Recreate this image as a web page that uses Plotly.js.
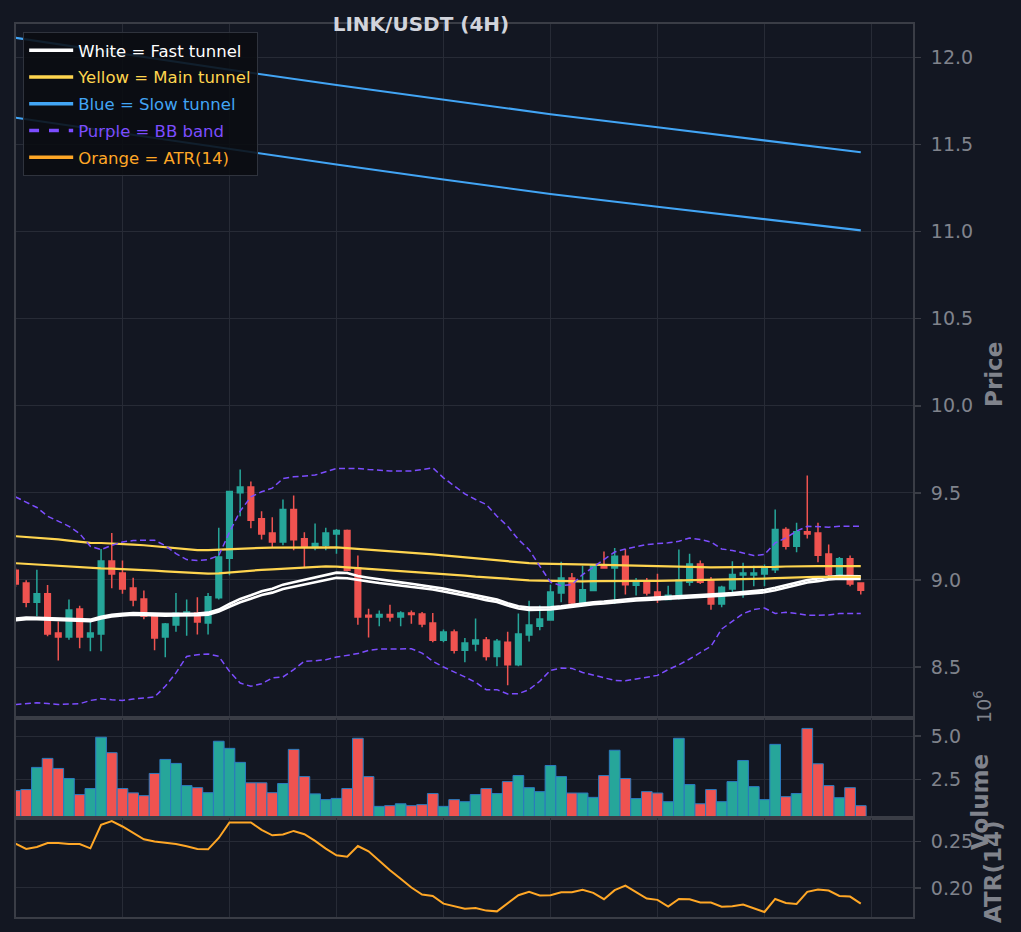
<!DOCTYPE html>
<html>
<head>
<meta charset="utf-8">
<script src="https://cdn.plot.ly/plotly-3.0.1.min.js"></script>
<style>
  html, body { margin: 0; padding: 0; background: #131722; }
  #chart { width: 1021px; height: 932px; }
</style>
</head>
<body>
<div id="chart"></div>
<script>
// candles (4H), oldest first
const open = [9.056, 8.983, 8.872, 8.920, 8.695, 8.672, 8.833, 8.672, 8.690, 9.109,
    9.040, 8.954, 8.891, 8.791, 8.672, 8.741, 8.801, 8.810, 8.753, 8.897,
    9.125, 9.500, 9.534, 9.351, 9.270, 9.218, 9.404, 9.236, 9.186, 9.199,
    9.264, 9.284, 9.069, 8.797, 8.787, 8.801, 8.787, 8.810, 8.805, 8.753,
    8.653, 8.701, 8.596, 8.632, 8.655, 8.561, 8.642, 8.513, 8.684, 8.734,
    8.770, 8.925, 9.011, 8.862, 8.939, 9.079, 9.069, 9.136, 8.969, 8.992,
    8.931, 8.887, 8.897, 8.987, 9.092, 9.000, 8.862, 8.948, 9.029, 9.029,
    9.034, 9.059, 9.289, 9.193, 9.276, 9.270, 9.149, 9.031, 9.121, 8.983];
const high = [9.070, 8.998, 9.059, 8.971, 8.762, 8.887, 8.852, 8.759, 9.178, 9.270,
    9.111, 9.013, 8.939, 8.810, 8.753, 8.925, 8.887, 8.900, 8.925, 9.299,
    9.512, 9.634, 9.565, 9.395, 9.360, 9.462, 9.485, 9.274, 9.324, 9.299,
    9.293, 9.290, 9.140, 8.835, 8.824, 8.858, 8.820, 8.824, 8.816, 8.810,
    8.715, 8.715, 8.667, 8.778, 8.672, 8.661, 8.703, 8.807, 8.881, 8.853,
    8.973, 9.105, 9.040, 9.082, 9.086, 9.163, 9.184, 9.178, 9.011, 9.011,
    9.036, 8.967, 9.174, 9.151, 9.111, 9.017, 8.967, 9.107, 9.098, 9.082,
    9.088, 9.404, 9.303, 9.328, 9.600, 9.328, 9.203, 9.132, 9.140, 8.983];
const low = [8.960, 8.843, 8.791, 8.676, 8.538, 8.657, 8.607, 8.590, 8.590, 8.952,
    8.921, 8.849, 8.774, 8.596, 8.556, 8.703, 8.680, 8.686, 8.686, 8.887,
    9.027, 9.366, 9.297, 9.232, 9.188, 9.199, 9.170, 9.073, 9.170, 9.170,
    9.151, 9.050, 8.743, 8.670, 8.734, 8.761, 8.734, 8.749, 8.728, 8.642,
    8.642, 8.577, 8.527, 8.590, 8.538, 8.504, 8.395, 8.504, 8.646, 8.711,
    8.768, 8.872, 8.853, 8.849, 8.935, 9.065, 8.862, 8.916, 8.910, 8.910,
    8.868, 8.883, 8.887, 8.967, 8.977, 8.829, 8.843, 8.929, 8.897, 8.964,
    8.964, 9.040, 9.174, 9.159, 9.238, 9.102, 9.011, 9.017, 8.964, 8.916];
const close = [8.977, 8.872, 8.920, 8.690, 8.672, 8.828, 8.672, 8.695, 9.109, 9.034,
    8.948, 8.885, 8.791, 8.667, 8.747, 8.808, 8.816, 8.759, 8.904, 9.132,
    9.508, 9.534, 9.343, 9.264, 9.218, 9.404, 9.230, 9.193, 9.209, 9.270,
    9.284, 9.056, 8.787, 8.787, 8.801, 8.787, 8.810, 8.801, 8.747, 8.653,
    8.701, 8.596, 8.638, 8.655, 8.561, 8.648, 8.513, 8.690, 8.741, 8.776,
    8.931, 9.011, 8.868, 8.944, 9.082, 9.069, 9.136, 8.973, 8.992, 8.925,
    8.887, 8.912, 9.000, 9.092, 8.987, 8.862, 8.958, 9.031, 9.040, 9.040,
    9.069, 9.289, 9.193, 9.276, 9.264, 9.142, 9.031, 9.121, 8.977, 8.941];
// volume, millions
const volume = [1.86, 1.92, 3.20, 3.72, 3.14, 2.56, 1.63, 1.98, 4.94, 4.05,
    1.98, 1.73, 1.57, 2.85, 3.66, 3.43, 2.15, 2.03, 1.74, 4.71,
    4.30, 3.49, 2.31, 2.31, 1.74, 2.27, 4.24, 2.67, 1.67, 1.34,
    1.41, 1.98, 4.88, 2.67, 0.95, 0.99, 1.10, 0.99, 1.05, 1.69,
    0.95, 1.34, 1.22, 1.63, 1.98, 1.69, 2.38, 2.73, 2.03, 1.80,
    3.31, 2.67, 1.72, 1.72, 1.47, 2.73, 4.19, 2.56, 1.40, 1.80,
    1.72, 1.22, 4.88, 2.21, 1.10, 1.92, 1.22, 2.38, 3.60, 2.09,
    1.34, 4.53, 1.51, 1.69, 5.45, 3.41, 2.15, 1.45, 2.03, 0.99];
// fast tunnel (white)
const fastUp = [8.778, 8.784, 8.783, 8.781, 8.779, 8.776, 8.774, 8.772, 8.789, 8.800,
    8.806, 8.810, 8.809, 8.806, 8.805, 8.806, 8.806, 8.807, 8.812, 8.830,
    8.862, 8.891, 8.912, 8.935, 8.950, 8.973, 8.987, 9.000, 9.013, 9.030,
    9.042, 9.040, 9.022, 9.012, 9.002, 8.994, 8.986, 8.978, 8.970, 8.962,
    8.950, 8.938, 8.925, 8.912, 8.898, 8.887, 8.866, 8.849, 8.841, 8.840,
    8.843, 8.849, 8.857, 8.865, 8.872, 8.876, 8.882, 8.890, 8.893, 8.896,
    8.899, 8.902, 8.906, 8.910, 8.914, 8.918, 8.921, 8.925, 8.930, 8.936,
    8.942, 8.955, 8.970, 8.985, 9.000, 9.008, 9.018, 9.022, 9.022, 9.021];
const fastLo = [8.769, 8.775, 8.774, 8.772, 8.770, 8.767, 8.765, 8.763, 8.779, 8.790,
    8.796, 8.800, 8.799, 8.796, 8.795, 8.796, 8.796, 8.797, 8.801, 8.818,
    8.846, 8.872, 8.892, 8.913, 8.927, 8.948, 8.961, 8.973, 8.985, 9.001,
    9.012, 9.010, 8.999, 8.991, 8.982, 8.975, 8.968, 8.960, 8.952, 8.945,
    8.934, 8.923, 8.910, 8.898, 8.884, 8.873, 8.853, 8.836, 8.828, 8.828,
    8.831, 8.838, 8.846, 8.854, 8.861, 8.865, 8.871, 8.879, 8.882, 8.885,
    8.888, 8.891, 8.895, 8.899, 8.903, 8.907, 8.910, 8.914, 8.918, 8.923,
    8.929, 8.941, 8.955, 8.970, 8.985, 8.993, 9.003, 9.007, 9.007, 9.006];
// main tunnel (yellow)
const mainUp = [9.251, 9.247, 9.243, 9.239, 9.233, 9.226, 9.219, 9.213, 9.212, 9.210,
    9.206, 9.203, 9.199, 9.194, 9.188, 9.182, 9.176, 9.171, 9.171, 9.174,
    9.179, 9.181, 9.182, 9.184, 9.185, 9.186, 9.187, 9.188, 9.189, 9.190,
    9.187, 9.183, 9.179, 9.174, 9.169, 9.165, 9.160, 9.156, 9.151, 9.147,
    9.141, 9.135, 9.129, 9.123, 9.117, 9.111, 9.106, 9.101, 9.096, 9.094,
    9.092, 9.090, 9.089, 9.088, 9.087, 9.086, 9.085, 9.083, 9.081, 9.079,
    9.078, 9.077, 9.076, 9.074, 9.073, 9.072, 9.072, 9.071, 9.071, 9.072,
    9.073, 9.075, 9.077, 9.079, 9.079, 9.079, 9.079, 9.079, 9.079, 9.079];
const mainLo = [9.096, 9.092, 9.087, 9.082, 9.078, 9.074, 9.070, 9.067, 9.066, 9.065,
    9.063, 9.060, 9.057, 9.053, 9.049, 9.045, 9.042, 9.039, 9.036, 9.038,
    9.044, 9.049, 9.054, 9.058, 9.061, 9.064, 9.067, 9.071, 9.075, 9.078,
    9.076, 9.072, 9.068, 9.064, 9.060, 9.057, 9.053, 9.049, 9.045, 9.040,
    9.035, 9.030, 9.025, 9.019, 9.014, 9.011, 9.006, 9.002, 8.998, 8.996,
    8.994, 8.992, 8.992, 8.992, 8.993, 8.994, 8.995, 8.996, 8.995, 8.994,
    8.994, 8.995, 8.996, 8.997, 8.998, 8.999, 9.001, 9.002, 9.004, 9.006,
    9.008, 9.010, 9.013, 9.015, 9.016, 9.017, 9.017, 9.017, 9.017, 9.017];
// slow tunnel (blue), read every 10 candles
const slowIdx = [0, 10, 20, 30, 40, 50, 60, 70, 79];
const slowUp = [12.113, 12.021, 11.929, 11.842, 11.756, 11.674, 11.599, 11.524, 11.456];
const slowLo = [11.654, 11.563, 11.472, 11.385, 11.299, 11.216, 11.143, 11.072, 11.007];
// bollinger band
const bbUp = [9.477, 9.446, 9.416, 9.366, 9.335, 9.308, 9.266, 9.193, 9.174, 9.199,
    9.218, 9.226, 9.228, 9.228, 9.197, 9.151, 9.117, 9.111, 9.117, 9.140,
    9.274, 9.395, 9.477, 9.506, 9.527, 9.582, 9.592, 9.596, 9.602, 9.621,
    9.640, 9.640, 9.640, 9.634, 9.628, 9.626, 9.625, 9.625, 9.634, 9.644,
    9.586, 9.538, 9.494, 9.462, 9.433, 9.366, 9.308, 9.232, 9.174, 9.079,
    8.987, 8.967, 8.973, 9.031, 9.075, 9.120, 9.160, 9.178, 9.190, 9.203,
    9.209, 9.213, 9.222, 9.241, 9.232, 9.218, 9.178, 9.169, 9.155, 9.140,
    9.146, 9.213, 9.241, 9.280, 9.308, 9.305, 9.303, 9.308, 9.308, 9.308];
const bbLo = [8.284, 8.291, 8.295, 8.291, 8.285, 8.287, 8.289, 8.308, 8.318, 8.312,
    8.308, 8.316, 8.320, 8.328, 8.389, 8.466, 8.561, 8.571, 8.575, 8.561,
    8.475, 8.408, 8.389, 8.404, 8.437, 8.443, 8.485, 8.533, 8.536, 8.542,
    8.557, 8.565, 8.577, 8.596, 8.603, 8.603, 8.603, 8.605, 8.580, 8.533,
    8.500, 8.473, 8.443, 8.412, 8.370, 8.370, 8.345, 8.347, 8.370, 8.418,
    8.481, 8.494, 8.492, 8.469, 8.454, 8.437, 8.423, 8.421, 8.431, 8.443,
    8.452, 8.485, 8.513, 8.546, 8.584, 8.619, 8.718, 8.764, 8.806, 8.830,
    8.839, 8.807, 8.814, 8.807, 8.797, 8.797, 8.799, 8.807, 8.807, 8.807];
// ATR(14)
const atr = [0.2478, 0.2420, 0.2441, 0.2485, 0.2485, 0.2474, 0.2474, 0.2427, 0.2680, 0.2721,
    0.2663, 0.2590, 0.2525, 0.2500, 0.2489, 0.2474, 0.2449, 0.2420, 0.2416, 0.2539,
    0.2707, 0.2707, 0.2707, 0.2626, 0.2568, 0.2576, 0.2615, 0.2579, 0.2507, 0.2424,
    0.2351, 0.2337, 0.2452, 0.2395, 0.2289, 0.2191, 0.2098, 0.2003, 0.1927, 0.1913,
    0.1829, 0.1805, 0.1775, 0.1783, 0.1754, 0.1746, 0.1837, 0.1920, 0.1957, 0.1917,
    0.1920, 0.1953, 0.1953, 0.1978, 0.1946, 0.1877, 0.1975, 0.2025, 0.1953, 0.1884,
    0.1870, 0.1797, 0.1880, 0.1877, 0.1841, 0.1841, 0.1797, 0.1801, 0.1819, 0.1779,
    0.1739, 0.1880, 0.1837, 0.1826, 0.1957, 0.1982, 0.1971, 0.1913, 0.1906, 0.1830];

const UP = '#26a69a', DOWN = '#ef5350';
const WHITE = '#ffffff', YELLOW = '#ffd54f', BLUE = '#42a5f5', PURPLE = '#7c4dff', ORANGE = '#ffa726';
const AXIS = '#80838c', FRAME = '#3a3d46', GRID = '#272b36';

const idx = open.map((_, i) => i);
const volColors = close.map((c, i) => (c >= open[i] ? UP : DOWN));

function line(x, y, color, width, dash, xa, ya) {
    return {
        type: 'scatter', mode: 'lines', x: x, y: y,
        xaxis: xa || 'x', yaxis: ya || 'y',
        line: { color: color, width: width, dash: dash || 'solid' },
        showlegend: false,
    };
}
// legend-only entry, drawn thicker than the plotted line as in the reference
function key(txt, color, dash) {
    return {
        type: 'scatter', mode: 'lines', x: [null], y: [null],
        line: { color: color, width: 3.3, dash: dash || 'solid' },
        name: '<span style="color:' + color + '">' + txt + '</span>',
        legendgroup: txt,
    };
}

let data = [{ // candles
    type: 'candlestick',
    x: idx, open: open, high: high, low: low, close: close,
    xaxis: 'x', yaxis: 'y',
    increasing: { line: { color: UP, width: 1.5 }, fillcolor: UP },
    decreasing: { line: { color: DOWN, width: 1.5 }, fillcolor: DOWN },
    whiskerwidth: 0,
    showlegend: false,
    hoverinfo: 'skip',
},
    line(idx, fastUp, WHITE, 2.6),
    line(idx, fastLo, WHITE, 2.6),
    line(idx, mainUp, YELLOW, 2.2),
    line(idx, mainLo, YELLOW, 2.2),
    line(slowIdx, slowUp, BLUE, 2.1),
    line(slowIdx, slowLo, BLUE, 2.1),
    line(idx, bbUp, PURPLE, 1.5, '6px,3.5px'),
    line(idx, bbLo, PURPLE, 1.5, '6px,3.5px'),
{ // volume
    type: 'bar', x: idx, y: volume,
    xaxis: 'x2', yaxis: 'y2',
    width: 1,
    marker: { color: volColors, line: { color: '#2b7bbf', width: 1 } },
    showlegend: false,
},
    line(idx, atr, ORANGE, 2, 'solid', 'x3', 'y3'),
    key('White = Fast tunnel', WHITE),
    key('Yellow = Main tunnel', YELLOW),
    key('Blue = Slow tunnel', BLUE),
    key('Purple = BB band', PURPLE, 'dash'),
    key('Orange = ATR(14)', ORANGE),
];

const xRange = [0.05, 83.88];
function xAx(anchor) {
    return {
        anchor: anchor, domain: [0, 1], range: xRange,
        tick0: 0, dtick: 10, ticks: '', showticklabels: false,
        gridcolor: GRID, gridwidth: 1, zeroline: false,
        showline: true, mirror: true, linecolor: FRAME, linewidth: 2,
        rangeslider: { visible: false },
    };
}
function yAx(anchor, domain, range, dtick, fmt) {
    return {
        anchor: anchor, domain: domain, range: range, side: 'right',
        tick0: 0, dtick: dtick, tickformat: fmt,
        ticks: 'outside', ticklen: 6, tickwidth: 1.5, tickcolor: FRAME,
        ticklabelstandoff: 6,
        tickfont: { family: 'DejaVu Sans', size: 19, color: AXIS },
        gridcolor: GRID, gridwidth: 1, zeroline: false,
        showline: true, mirror: true, linecolor: FRAME, linewidth: 2,
    };
}
function sideTitle(txt, x, y, size) {
    return {
        xref: 'paper', yref: 'paper', x: x, y: y,
        xanchor: 'center', yanchor: 'middle', showarrow: false,
        textangle: -90, text: txt,
        font: { family: 'DejaVu Sans', size: size, color: AXIS },
    };
}

let layout = {
    width: 1021, height: 932,
    paper_bgcolor: '#131722', plot_bgcolor: '#131722',
    margin: { l: 16, r: 108, t: 24, b: 15, pad: 0 },
    font: { family: 'DejaVu Sans', color: AXIS },
    title: {
        text: '<b>LINK/USDT (4H)</b>',
        x: 0.4123, xref: 'container', xanchor: 'center',
        y: 0.974, yref: 'container', yanchor: 'middle',
        font: { family: 'DejaVu Sans', size: 20, color: '#d1d4dc' },
    },
    showlegend: true,
    legend: {
        x: 0.008, y: 0.991, xanchor: 'left', yanchor: 'top',
        bgcolor: 'rgba(10,12,17,0.88)', bordercolor: '#2f333d', borderwidth: 1,
        font: { family: 'DejaVu Sans', size: 16.5, color: WHITE },
        traceorder: 'grouped', tracegroupgap: 2.3, itemwidth: 44,
    },
    bargap: 0, boxgap: 0.25,
    hovermode: false,
    xaxis: xAx('y'),
    xaxis2: xAx('y2'),
    xaxis3: xAx('y3'),
    yaxis: yAx('x', [0.2228, 1], [8.207, 12.192], 0.5, '.1f'),
    yaxis2: yAx('x2', [0.1109, 0.2228], [0.28, 6.05], 2.5, '.1f'),
    yaxis3: yAx('x3', [0, 0.1109], [0.1685, 0.2755], 0.05, '.2f'),
    annotations: [
        sideTitle('<b>Price</b>', 1.0903, 0.6081, 23),
        sideTitle('<b>Volume</b>', 1.0747, 0.1288, 23),
        sideTitle('<b>ATR(14)</b>', 1.0892, 0.0504, 23),
        sideTitle('10<sup>6</sup>', 1.0780, 0.2363, 19),
    ],
};

Plotly.newPlot('chart', data, layout, { staticPlot: true, displayModeBar: false });
</script>
</body>
</html>
